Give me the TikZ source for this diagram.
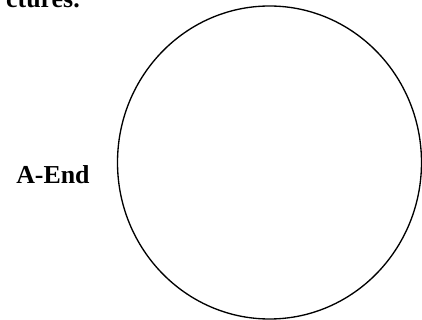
\documentclass[tikz,border=0pt]{standalone}
\usepackage{fontspec}
\setmainfont{Liberation Serif}
\usepackage{tikz}

\begin{document}
\begin{tikzpicture}[x=0.75pt, y=-0.75pt, every node/.style={font=\bfseries\fontsize{19.4}{23}\selectfont, inner sep=0pt}]
  \useasboundingbox (0,0) rectangle (422,320);
  \begin{scope}
    \clip (0,0) rectangle (422,320);
    % Caption tail
    \node[anchor=base east] (caption) at (80,7.5) {ctures.};
    % End
    \node[anchor=base west] (aend) at (16,184) {A-End};
    % Outline
    \draw[line width=1pt] (269.5,162.5) ellipse [x radius=152, y radius=156.5];
  \end{scope}
\end{tikzpicture}
\end{document}
